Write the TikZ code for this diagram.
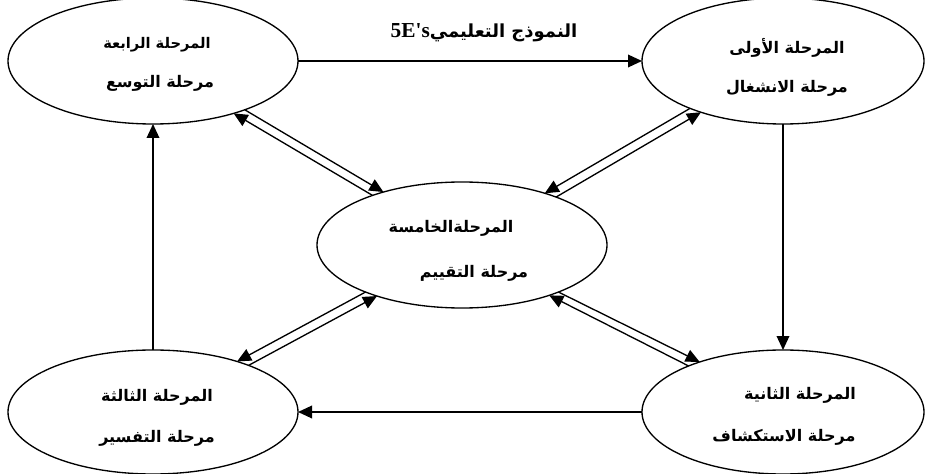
\documentclass[tikz,border=0pt]{standalone}
\usepackage{fontspec}
\newfontfamily\arabicfont[Script=Arabic]{DejaVu Sans}
\newfontfamily\latinfont{Liberation Serif}
\TeXXeTstate=1
\usetikzlibrary{shapes.geometric,arrows.meta}

\tikzset{
  stage/.style={ellipse, draw, line width=1pt, inner sep=0pt, outer sep=0pt},
  flow/.style={line width=1pt, -{Triangle[length=10.5pt,width=9.5pt]}},
  stagetext/.style={inner sep=0.75pt, font=\arabicfont\bfseries\fontsize{12}{14}\selectfont},
  stagesmall/.style={inner sep=0.75pt, font=\arabicfont\bfseries\fontsize{11}{13}\selectfont},
}

\begin{document}
\begin{tikzpicture}[x=0.75pt,y=0.75pt,yscale=-1,xscale=1]
\useasboundingbox (0,0) rectangle (925,474);
\clip (0,0) rectangle (925,474);

%Ellipses
\node[stage, minimum width=217.5pt, minimum height=94.5pt] (TL) at (153,61) {};
\node[stage, minimum width=211.5pt, minimum height=94.5pt] (TR) at (783,61) {};
\node[stage, minimum width=217.5pt, minimum height=94.5pt] (C) at (462,245) {};
\node[stage, minimum width=217.5pt, minimum height=93pt] (BL) at (153,412) {};
\node[stage, minimum width=211.5pt, minimum height=93pt] (BR) at (783,412) {};

%Outer cycle
\draw[flow] (TL.east) -- (TR.west);
\draw[flow] (TR.south) -- (BR.north);
\draw[flow] (BR.west) -- (BL.east);
\draw[flow] (BL.north) -- (TL.south);

%Double arrows to the centre
\draw[flow] (TL.-28.3) -- (C.146.5);
\draw[flow] (C.151.7) -- (TL.-33.5);
\draw[flow] (TR.207.4) -- (C.32.5);
\draw[flow] (C.27.4) -- (TR.212.5);
\draw[flow] (BL.26.0) -- (C.211.0);
\draw[flow] (C.206.0) -- (BL.31.0);
\draw[flow] (BR.154.9) -- (C.330);
\draw[flow] (C.334.9) -- (BR.149.9);

% Text Node
\node[stagetext, font=\arabicfont\bfseries\fontsize{13.5}{16}\selectfont] (title) at (484,33) {\beginR النموذج التعليمي\beginL{\latinfont\bfseries\fontsize{16}{18}\selectfont 5E's}\endL\endR};
% Text Node
\node[stagesmall] (tlA) at (157,45) {\beginR المرحلة الرابعة\endR};
\node[stagetext] (tlB) at (160,83) {\beginR مرحلة التوسع\endR};
% Text Node
\node[stagetext] (trA) at (787,48) {\beginR المرحلة الأولى\endR};
\node[stagetext] (trB) at (787,88) {\beginR مرحلة الانشغال\endR};
% Text Node
\node[stagetext] (cA) at (451,228) {\beginR المرحلةالخامسة\endR};
\node[stagetext] (cB) at (474,273) {\beginR مرحلة التقييم\endR};
% Text Node
\node[stagetext] (blA) at (157,397) {\beginR المرحلة الثالثة\endR};
\node[stagetext] (blB) at (157,438) {\beginR مرحلة التفسير\endR};
% Text Node
\node[stagetext] (brA) at (800,395) {\beginR المرحلة الثانية\endR};
\node[stagetext] (brB) at (784,437) {\beginR مرحلة الاستكشاف\endR};

\end{tikzpicture}
\end{document}
